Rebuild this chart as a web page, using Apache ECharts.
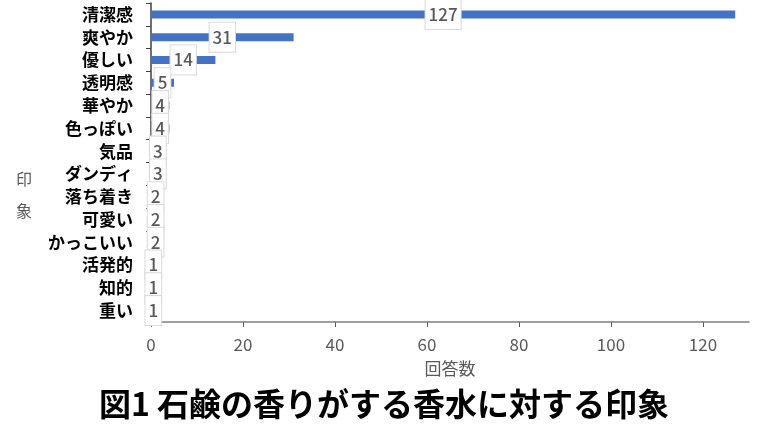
<!DOCTYPE html>
<html>
<head>
<meta charset="utf-8">
<script src="https://cdn.jsdelivr.net/npm/echarts@6/dist/echarts.min.js"></script>
<style>
html,body{margin:0;padding:0;background:#fff;}
#c{width:768px;height:432px;}
</style>
</head>
<body>
<div id="c"></div>
<script>
const categories = ['清潔感','爽やか','優しい','透明感','華やか','色っぽい','気品','ダンディ','落ち着き','可愛い','かっこいい','活発的','知的','重い'];
const values = [127,31,14,5,4,4,3,3,2,2,2,1,1,1];
const xTicks = [0,20,40,60,80,100,120];
const titleText = '図1 石鹸の香りがする香水に対する印象';
const xName = '回答数';
const yName = '印象';

const FONT = '"Noto Sans CJK JP", "Noto Sans", sans-serif';
const chart = echarts.init(document.getElementById('c'));
chart.setOption({
  animation: false,
  textStyle: { fontFamily: FONT },
  title: {
    text: titleText,
    left: 'center',
    top: 383,
    textStyle: { fontSize: 32, fontWeight: 'bold', color: '#000', fontFamily: FONT }
  },
  grid: { left: 151, right: 19, top: 3, bottom: 110 },
  xAxis: {
    type: 'value',
    min: 0,
    max: 130,
    interval: 20,
    name: xName,
    nameLocation: 'middle',
    nameGap: 38,
    nameTextStyle: { fontSize: 17, color: '#595959', fontFamily: FONT },
    splitLine: { show: false },
    axisLine: { show: true, lineStyle: { color: '#808080', width: 1.5 } },
    axisTick: { show: true, length: 5, lineStyle: { color: '#595959' }, customValues: xTicks },
    axisLabel: { fontSize: 17, color: '#595959', margin: 14, customValues: xTicks, fontFamily: FONT }
  },
  yAxis: {
    type: 'category',
    data: categories,
    inverse: true,
    name: '\n\n' + yName.split('').join('\n'),
    nameLocation: 'middle',
    nameRotate: 0,
    nameGap: 119,
    nameTextStyle: { fontSize: 16, color: '#595959', lineHeight: 32, fontFamily: FONT },
    axisLine: { show: true, lineStyle: { color: '#404040', width: 1.5 } },
    axisTick: { show: true, length: 5, lineStyle: { color: '#404040' } },
    axisLabel: { fontSize: 17, fontWeight: 'bold', color: '#000', margin: 18, fontFamily: FONT }
  },
  series: [{
    type: 'bar',
    data: values,
    barWidth: 8,
    itemStyle: { color: '#4472C4' },
    label: {
      show: true,
      position: 'inside',
      fontSize: 17,
      fontWeight: 500,
      color: '#595959',
      backgroundColor: '#fff',
      borderColor: '#d9d9d9',
      borderWidth: 1,
      padding: [6, 3],
      fontFamily: FONT
    }
  }]
});
</script>
</body>
</html>
